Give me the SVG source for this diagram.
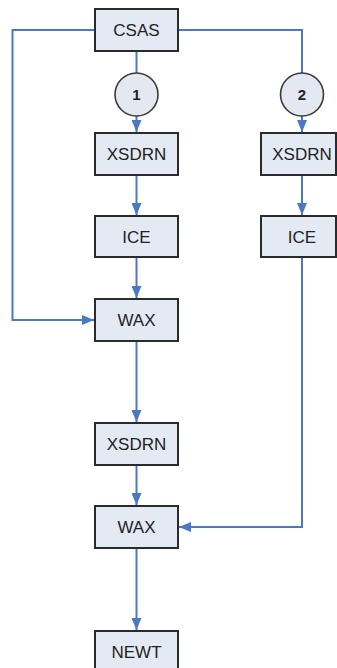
<svg xmlns="http://www.w3.org/2000/svg" width="337" height="668" viewBox="0 0 337 668">
<style>
.box{fill:#e4eaf4;stroke:#2b2b2b;stroke-width:2}
.circ{fill:#e4e8f0;stroke:#3a3a3a;stroke-width:1.6}
.lbl{font-family:"Liberation Sans",Arial,sans-serif;font-size:17px;fill:#222;text-anchor:middle}
.num{font-family:"Liberation Sans",Arial,sans-serif;font-size:15px;font-weight:bold;fill:#222;text-anchor:middle}
.conn{fill:none;stroke:#4a78c4;stroke-width:2}
</style>
<defs>
<marker id="arr" markerUnits="userSpaceOnUse" markerWidth="12" markerHeight="10" viewBox="0 0 12 10" refX="12" refY="5" orient="auto">
<path d="M0,0 L12,5 L0,10 Z" fill="#4a78c4"/>
</marker>
</defs>
<rect width="337" height="668" fill="#ffffff"/>
<g id="connectors">
<path class="conn" d="M95,30 H12.5 V320 H94" marker-end="url(#arr)"/>
<path class="conn" d="M178,30 H302 V73"/>
<path class="conn" d="M136.5,51 V73"/>
<path class="conn" d="M136.5,116 V132" marker-end="url(#arr)"/>
<path class="conn" d="M302,116 V132" marker-end="url(#arr)"/>
<path class="conn" d="M136.5,175 V215" marker-end="url(#arr)"/>
<path class="conn" d="M302,175 V215" marker-end="url(#arr)"/>
<path class="conn" d="M136.5,257 V298" marker-end="url(#arr)"/>
<path class="conn" d="M136.5,341 V422" marker-end="url(#arr)"/>
<path class="conn" d="M136.5,465 V505" marker-end="url(#arr)"/>
<path class="conn" d="M302,257 V527 H179" marker-end="url(#arr)"/>
<path class="conn" d="M136.5,548 V630" marker-end="url(#arr)"/>
</g>
<g id="csas"><rect class="box" x="95" y="9" width="83" height="42"/><text class="lbl" x="136.5" y="36">CSAS</text></g>
<g id="c1"><circle class="circ" cx="136.5" cy="94.5" r="21.5"/><text class="num" x="136.5" y="100">1</text></g>
<g id="c2"><circle class="circ" cx="302" cy="94.5" r="21.5"/><text class="num" x="302" y="100">2</text></g>
<g id="xsdrn1"><rect class="box" x="95" y="133" width="83" height="42"/><text class="lbl" x="136.5" y="160">XSDRN</text></g>
<g id="xsdrn2"><rect class="box" x="261" y="133" width="75" height="42"/><text class="lbl" x="302" y="160">XSDRN</text></g>
<g id="ice1"><rect class="box" x="95" y="216" width="83" height="41"/><text class="lbl" x="136.5" y="242.5">ICE</text></g>
<g id="ice2"><rect class="box" x="261" y="216" width="75" height="41"/><text class="lbl" x="302" y="242.5">ICE</text></g>
<g id="wax1"><rect class="box" x="95" y="299" width="83" height="42"/><text class="lbl" x="136.5" y="326">WAX</text></g>
<g id="xsdrn3"><rect class="box" x="95" y="423" width="83" height="42"/><text class="lbl" x="136.5" y="450">XSDRN</text></g>
<g id="wax2"><rect class="box" x="95" y="506" width="83" height="42"/><text class="lbl" x="136.5" y="533">WAX</text></g>
<g id="newt"><rect class="box" x="95" y="631" width="83" height="42"/><text class="lbl" x="136.5" y="658">NEWT</text></g>
</svg>
